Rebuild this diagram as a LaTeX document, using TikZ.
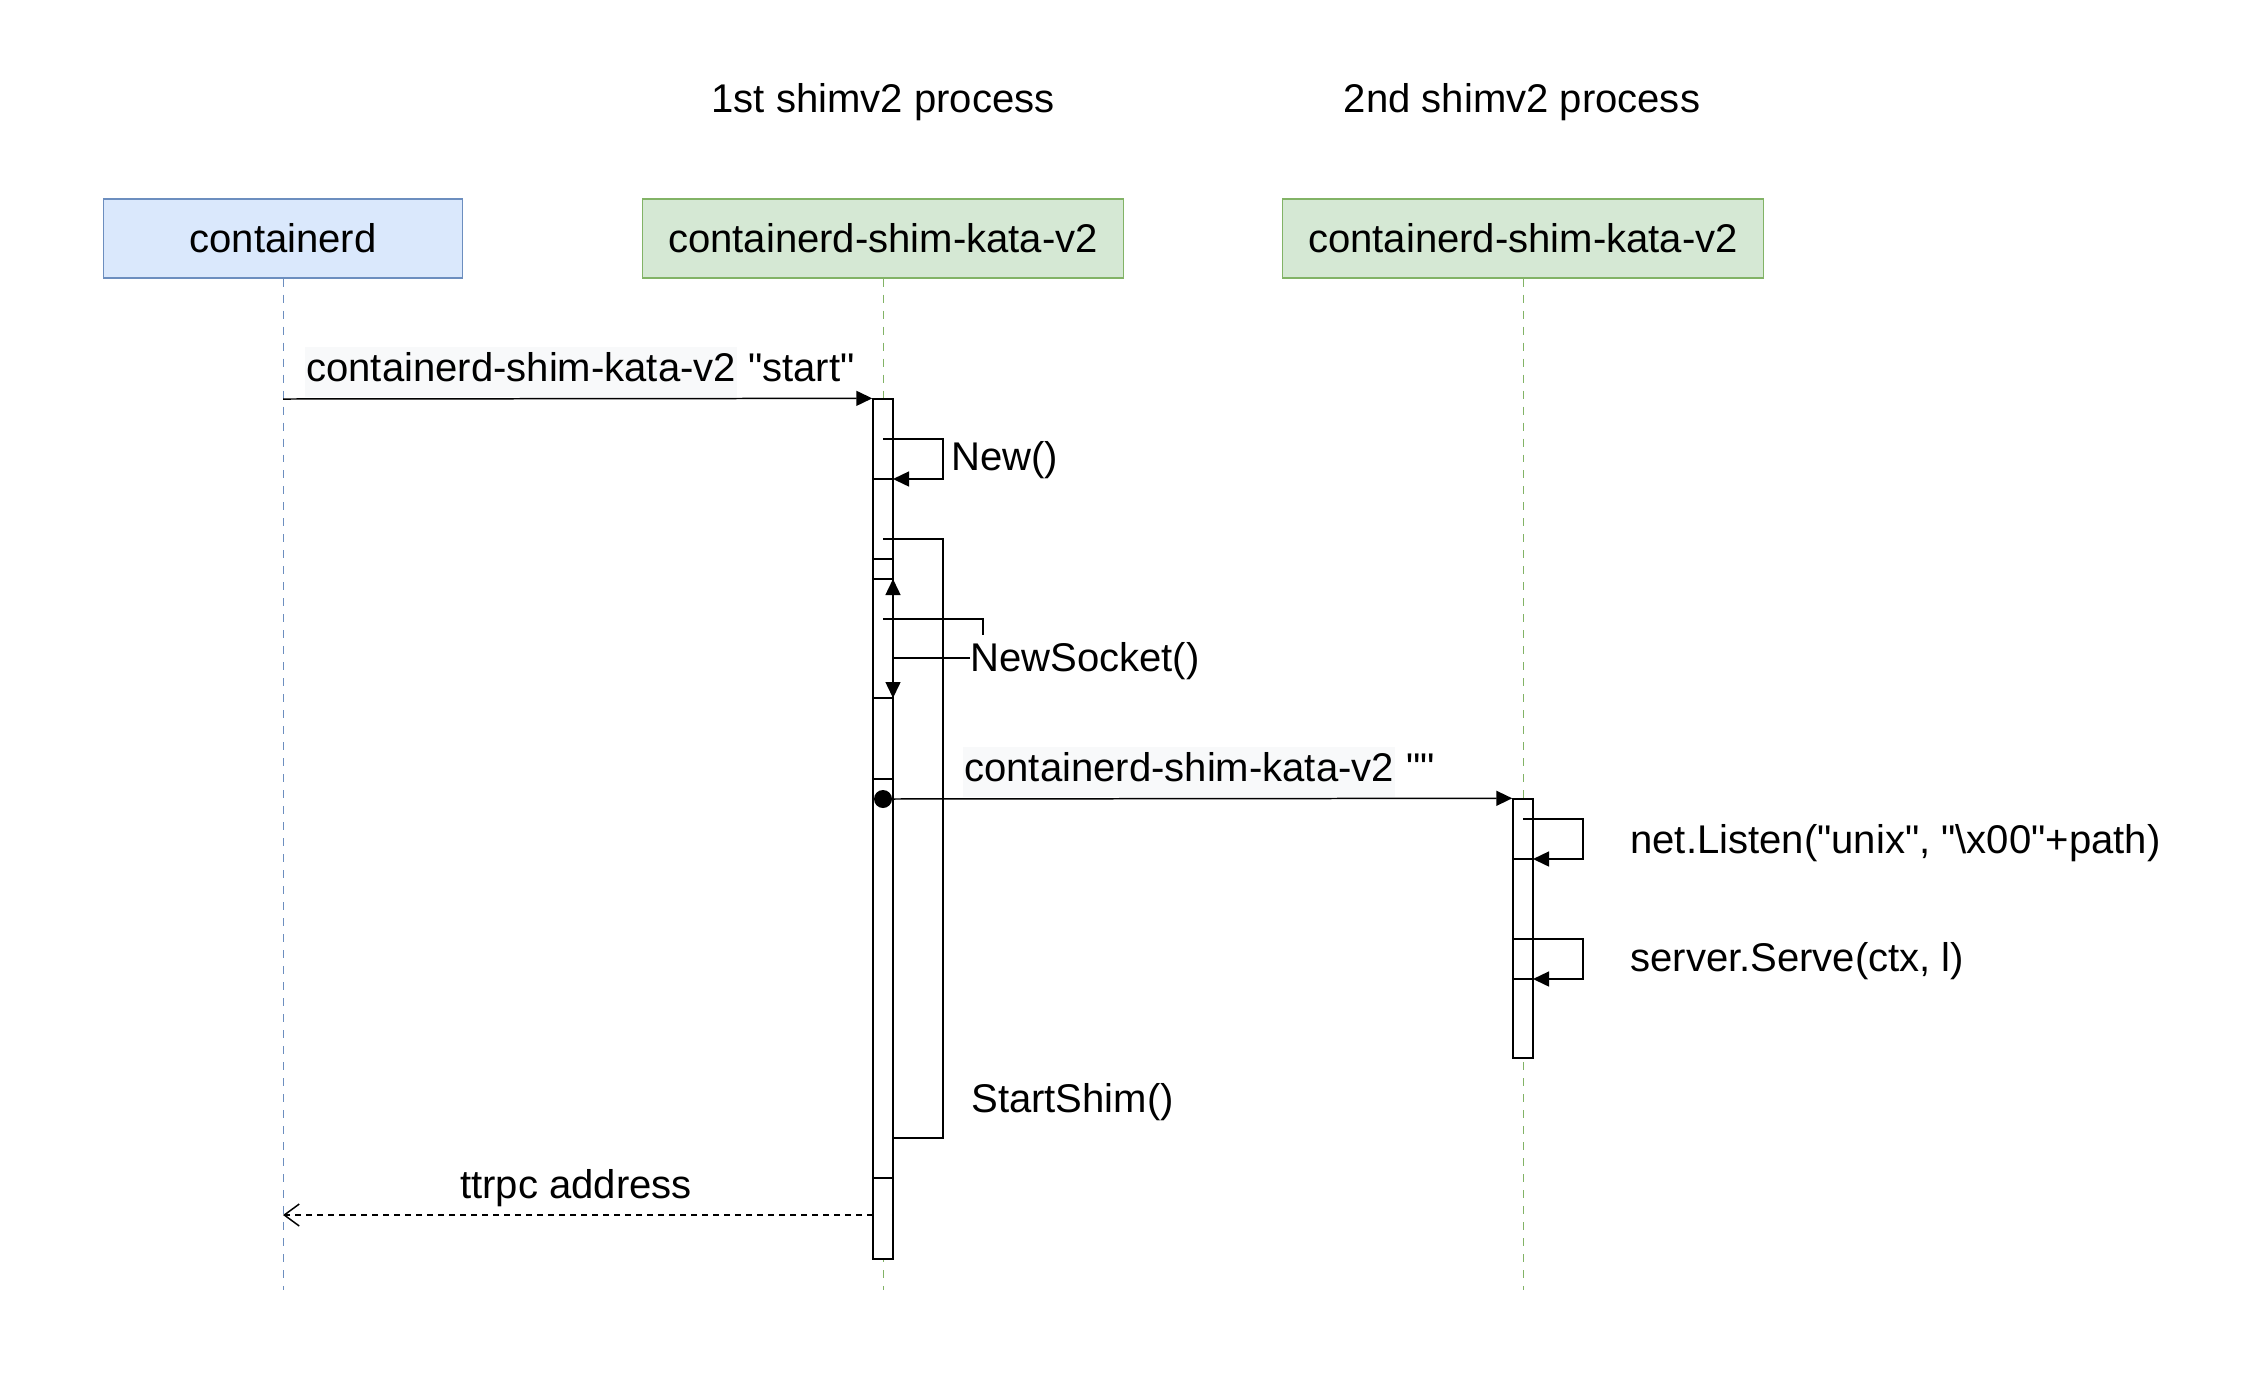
\documentclass[tikz,border=0pt]{standalone}
\usepackage{fontspec}
\setmainfont{Liberation Sans}[Ligatures=TeXOff]
\usetikzlibrary{arrows.meta,positioning}

\definecolor{ctdfill}{HTML}{DAE8FC}
\definecolor{ctdline}{HTML}{6C8EBF}
\definecolor{shimfill}{HTML}{D5E8D4}
\definecolor{shimline}{HTML}{82B366}
\definecolor{lblbg}{HTML}{F8F9FA}

\newcommand{\lblhl}[1]{{\setlength{\fboxsep}{0.02cm}\colorbox{lblbg}{\strut #1}}}

\tikzset{
	every node/.style={font=\fontsize{22.8}{27}\selectfont},
	actor/.style={draw, line width=0.6pt, minimum height=1.58cm, inner sep=0pt},
	lifeline/.style={line width=0.5pt, dash pattern=on 0.16cm off 0.16cm},
	actbar/.style={draw, fill=white, line width=0.85pt, minimum width=0.4cm, inner sep=0pt},
	msg/.style={line width=0.85pt, -{Triangle[length=0.32cm,width=0.3cm]}},
	selfline/.style={line width=0.85pt},
	reply/.style={line width=0.85pt, dash pattern=on 0.13cm off 0.09cm, -{Straight Barb[length=0.3cm,width=0.44cm]}},
	lbl/.style={inner sep=0pt, anchor=west},
}

\begin{document}
\begin{tikzpicture}[x=0.02cm, y=-0.02cm]
	\useasboundingbox (0,0) rectangle (2248,1384);

	\node (title1) at (883,102) {1st shimv2 process};
	\node (title2) at (1522,102) {2nd shimv2 process};

	\node[actor, fill=ctdfill, draw=ctdline, minimum width=7.2cm] (ctd) at (283,238.5) {containerd};
	\node[actor, fill=shimfill, draw=shimline, minimum width=9.62cm] (shim1) at (883,238.5) {containerd-shim-kata-v2};
	\node[actor, fill=shimfill, draw=shimline, minimum width=9.62cm] (shim2) at (1523,238.5) {containerd-shim-kata-v2};

	\coordinate (ctdend) at (283,1290);
	\coordinate (shim1end) at (883,1290);
	\coordinate (shim2end) at (1523,1290);
	\draw[lifeline, ctdline] (ctd.south) -- (ctdend);
	\draw[lifeline, shimline] (shim1.south) -- (shim1end);
	\draw[lifeline, shimline] (shim2.south) -- (shim2end);

	\node[actbar, minimum height=17.2cm] (act1) at (883,829) {};
	\node[actbar, minimum height=5.18cm] (act2) at (1523,928.5) {};
	\foreach \y in {479,559,579,698,779,1178}
		\draw[selfline] (873,\y) -- (893,\y);
	\foreach \y in {859,979}
		\draw[selfline] (1513,\y) -- (1533,\y);

	\node[lbl] (startlbl) at (305,372) {\lblhl{containerd-shim-kata-v2} "start"};
	\coordinate (start1) at (283,399);
	\draw[msg] (start1) -- (act1.north west);

	\coordinate (new1) at (883,439);
	\coordinate (new2) at (893,479);
	\draw[msg] (new1) -- (943,439) |- (new2);
	\node[lbl] (newlbl) at (951,460) {New()};

	\coordinate (ss1) at (883,539);
	\coordinate (ss2) at (893,1138);
	\draw[selfline] (ss1) -- (943,539) |- (ss2);
	\node[lbl] (sslbl) at (971,1102) {StartShim()};

	\node[lbl] (nslbl) at (970,661) {NewSocket()};
	\coordinate (ns1) at (883,619);
	\coordinate (ns2) at (893,658);
	\draw[selfline] (ns1) -| (983,635);
	\draw[selfline] (970,658) -- (ns2);
	\draw[msg] (ns2) -- (893,579);
	\draw[msg] (ns2) -- (893,698);

	\node[lbl] (m2lbl) at (963,772) {\lblhl{containerd-shim-kata-v2} ""};
	\draw[msg] (883,799) -- (act2.north west);
	\node[circle, fill, inner sep=0pt, minimum size=0.36cm] (dot) at (883,799) {};

	\coordinate (nl1) at (1523,819);
	\coordinate (nl2) at (1533,859);
	\draw[msg] (nl1) -- (1583,819) |- (nl2);
	\node[lbl] (nllbl) at (1630,843) {net.Listen("unix", "\textbackslash x00"+path)};

	\coordinate (sv1) at (1513,939);
	\coordinate (sv2) at (1533,979);
	\draw[msg] (sv1) -- (1583,939) |- (sv2);
	\node[lbl] (svlbl) at (1630,961) {server.Serve(ctx, l)};

	\coordinate (ret1) at (873,1215);
	\coordinate (ret2) at (283,1215);
	\draw[reply] (ret1) -- (ret2);
	\node (retlbl) at (576,1188) {ttrpc address};
\end{tikzpicture}
\end{document}
